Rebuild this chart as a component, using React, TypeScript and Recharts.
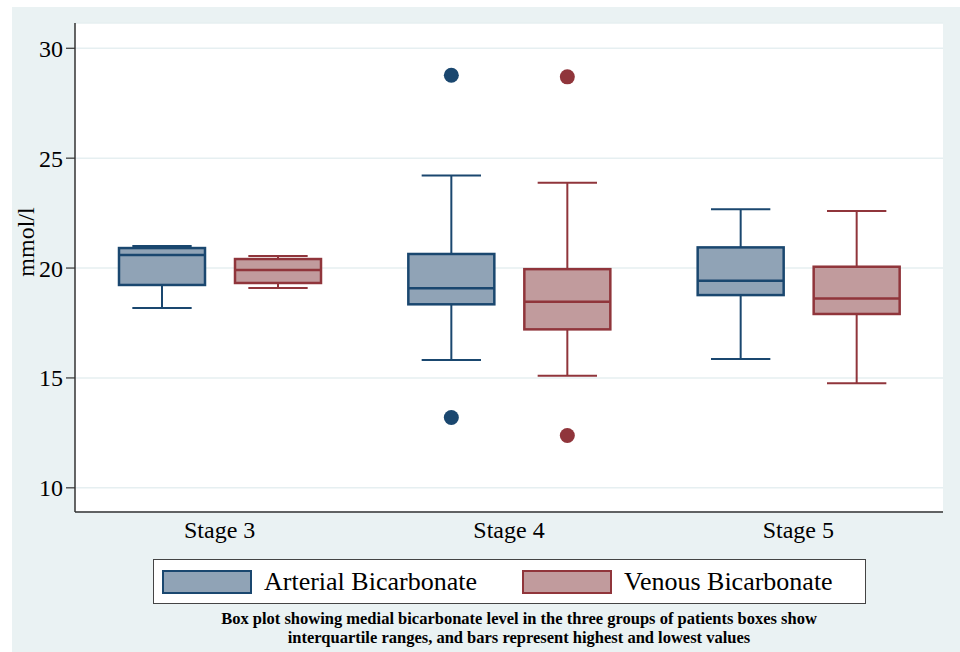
import React from "react";
import { ComposedChart, Bar, XAxis, YAxis, CartesianGrid } from "recharts";

const stages = ["Stage 3", "Stage 4", "Stage 5"];

// arterial bicarbonate (mmol/l)
const arterialLow = [18.18, 15.82, 15.86];
const arterialQ1 = [19.23, 18.35, 18.77];
const arterialMedian = [20.59, 19.08, 19.42];
const arterialQ3 = [20.91, 20.64, 20.94];
const arterialHigh = [21.0, 24.21, 22.67];
const arterialOutliers = [[], [28.77, 13.2], []];

// venous bicarbonate (mmol/l)
const venousLow = [19.09, 15.1, 14.76];
const venousQ1 = [19.32, 17.21, 17.91];
const venousMedian = [19.91, 18.47, 18.62];
const venousQ3 = [20.41, 19.95, 20.06];
const venousHigh = [20.55, 23.88, 22.6];
const venousOutliers = [[], [28.7, 12.38], []];

const yTicks = [10, 15, 20, 25, 30];

const FONT = '"Liberation Serif", "Times New Roman", serif';
const PANEL = "#eaf2f3";
const ART_STROKE = "#1a476f";
const ART_FILL = "#90a3b6";
const VEN_STROKE = "#90353b";
const VEN_FILL = "#c19b9d";

type Box = {
  low: number;
  q1: number;
  median: number;
  q3: number;
  high: number;
  outliers: number[];
  min: number;
  max: number;
};

const makeBox = (low, q1, median, q3, high, outliers): Box => ({
  low,
  q1,
  median,
  q3,
  high,
  outliers,
  min: Math.min(low, ...outliers),
  max: Math.max(high, ...outliers),
});

const data = stages.map((stage, i) => ({
  stage,
  arterial: makeBox(arterialLow[i], arterialQ1[i], arterialMedian[i], arterialQ3[i], arterialHigh[i], arterialOutliers[i]),
  venous: makeBox(venousLow[i], venousQ1[i], venousMedian[i], venousQ3[i], venousHigh[i], venousOutliers[i]),
}));

function BoxShape(props: any) {
  const { x, y, width, height, payload, seriesKey, stroke, fill } = props;
  const b: Box = payload[seriesKey];
  const top = Math.min(y, y + height);
  const bottom = Math.max(y, y + height);
  // bar spans [min, max] on the y scale, so map values linearly inside it
  const py = (v: number) => bottom - ((v - b.min) / (b.max - b.min)) * (bottom - top);
  const cx = x + width / 2;
  const cap = width * 0.69;
  return (
    <g>
      <line x1={cx} x2={cx} y1={py(b.high)} y2={py(b.q3)} stroke={stroke} strokeWidth={2} />
      <line x1={cx} x2={cx} y1={py(b.q1)} y2={py(b.low)} stroke={stroke} strokeWidth={2} />
      <line x1={cx - cap / 2} x2={cx + cap / 2} y1={py(b.high)} y2={py(b.high)} stroke={stroke} strokeWidth={2} />
      <line x1={cx - cap / 2} x2={cx + cap / 2} y1={py(b.low)} y2={py(b.low)} stroke={stroke} strokeWidth={2} />
      <rect
        x={x}
        y={py(b.q3)}
        width={width}
        height={py(b.q1) - py(b.q3)}
        fill={fill}
        stroke={stroke}
        strokeWidth={2.5}
      />
      <line x1={x} x2={x + width} y1={py(b.median)} y2={py(b.median)} stroke={stroke} strokeWidth={2.5} />
      {b.outliers.map((o, k) => (
        <circle key={k} cx={cx} cy={py(o)} r={7.5} fill={stroke} />
      ))}
    </g>
  );
}

const YLabel = () => (
  <text
    x={0}
    y={0}
    transform="translate(34, 242) rotate(-90)"
    textAnchor="middle"
    fontFamily={FONT}
    fontSize={24}
    fill="#000"
  >
    mmol/l
  </text>
);

function LegendItem({ fill, stroke, label }) {
  return (
    <div style={{ display: "flex", alignItems: "center" }}>
      <span
        style={{
          display: "inline-block",
          width: 86,
          height: 20,
          background: fill,
          border: `2.5px solid ${stroke}`,
          marginRight: 12,
        }}
      />
      <span style={{ fontSize: 26, color: "#000", whiteSpace: "nowrap" }}>{label}</span>
    </div>
  );
}

export default function App() {
  return (
    <div
      style={{
        position: "absolute",
        left: 0,
        top: 0,
        width: 960,
        height: 652,
        background: "#fff",
        fontFamily: FONT,
        overflow: "hidden",
      }}
    >
      <div style={{ position: "absolute", left: 12, top: 7, right: 0, bottom: 0, background: PANEL }} />

      <div style={{ position: "absolute", left: 0, top: 0 }}>
        <ComposedChart
          width={960}
          height={560}
          data={data}
          margin={{ top: 23, right: 17, left: 15, bottom: 8 }}
          barSize={86}
          barGap={30}
        >
          <CartesianGrid vertical={false} stroke="#e6eff1" strokeWidth={1.5} fill="#fff" fillOpacity={1} />
          <XAxis
            dataKey="stage"
            height={40}
            axisLine={{ stroke: "#333", strokeWidth: 1.5 }}
            tickLine={false}
            tickSize={6}
            tickMargin={3}
            tick={{ fill: "#000", fontSize: 24, fontFamily: FONT }}
          />
          <YAxis
            width={60}
            domain={[8.9, 31.15]}
            ticks={yTicks}
            allowDataOverflow
            axisLine={{ stroke: "#333", strokeWidth: 1.5 }}
            tickLine={{ stroke: "#333", strokeWidth: 1.2 }}
            tickSize={9}
            tickMargin={3}
            tick={{ fill: "#000", fontSize: 24, fontFamily: FONT }}
            label={<YLabel />}
          />
          <Bar
            dataKey={(d) => [d.arterial.min, d.arterial.max]}
            name="Arterial Bicarbonate"
            isAnimationActive={false}
            shape={(p) => <BoxShape {...p} seriesKey="arterial" stroke={ART_STROKE} fill={ART_FILL} />}
          />
          <Bar
            dataKey={(d) => [d.venous.min, d.venous.max]}
            name="Venous Bicarbonate"
            isAnimationActive={false}
            shape={(p) => <BoxShape {...p} seriesKey="venous" stroke={VEN_STROKE} fill={VEN_FILL} />}
          />
        </ComposedChart>
      </div>

      <div
        style={{
          position: "absolute",
          left: 153,
          top: 559,
          width: 713,
          height: 45,
          boxSizing: "border-box",
          border: "1.5px solid #444",
          background: "#fff",
          display: "flex",
          alignItems: "center",
          paddingLeft: 8,
        }}
      >
        <div style={{ width: 360 }}>
          <LegendItem fill={ART_FILL} stroke={ART_STROKE} label="Arterial Bicarbonate" />
        </div>
        <LegendItem fill={VEN_FILL} stroke={VEN_STROKE} label="Venous Bicarbonate" />
      </div>

      <div
        style={{
          position: "absolute",
          left: 169,
          top: 609,
          width: 700,
          textAlign: "center",
          fontSize: 16.5,
          fontWeight: "bold",
          lineHeight: "19px",
          color: "#000",
          whiteSpace: "nowrap",
        }}
      >
        Box plot showing medial bicarbonate level in the three groups of patients boxes show
        <br />
        interquartile ranges, and bars represent highest and lowest values
      </div>
    </div>
  );
}
